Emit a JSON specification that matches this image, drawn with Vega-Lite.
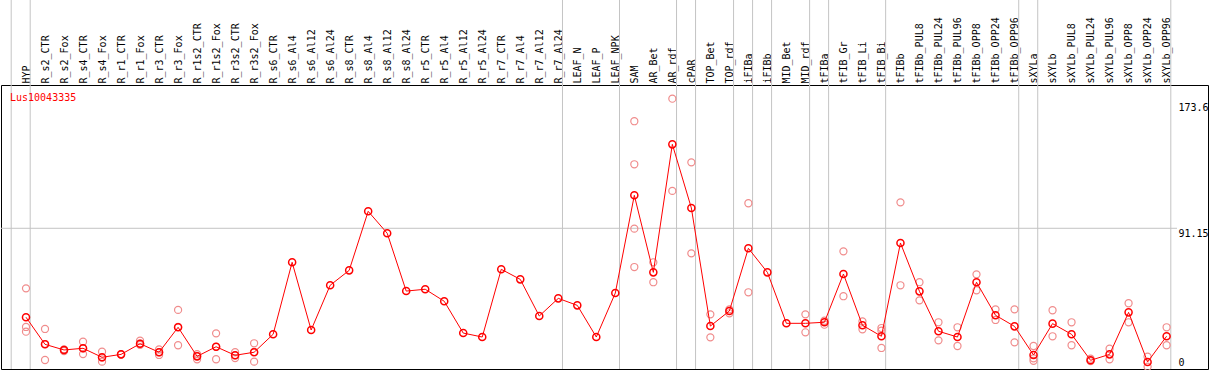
{
  "$schema": "https://vega.github.io/schema/vega-lite/v6.json",
  "width": 1207,
  "height": 284,
  "autosize": "none",
  "padding": {"left": 1, "top": 85, "right": 1, "bottom": 1},
  "background": "white",
  "config": {
    "view": {"stroke": "black", "strokeWidth": 1},
    "font": "DejaVu Sans Mono"
  },
  "title": {
    "text": "Lus10043335",
    "anchor": "start",
    "frame": "group",
    "orient": "top",
    "offset": 0,
    "baseline": "top",
    "color": "#ff0000",
    "font": "DejaVu Sans Mono",
    "fontSize": 10,
    "fontWeight": "normal",
    "dx": 9,
    "dy": 103
  },
  "datasets": {
    "means": [
      {"sample": "HYP", "value": 32.7},
      {"sample": "R_s2_CTR", "value": 14.9},
      {"sample": "R_s2_Fox", "value": 11.2},
      {"sample": "R_s4_CTR", "value": 12.3},
      {"sample": "R_s4_Fox", "value": 6.4},
      {"sample": "R_r1_CTR", "value": 8.3},
      {"sample": "R_r1_Fox", "value": 15.3},
      {"sample": "R_r3_CTR", "value": 9.7},
      {"sample": "R_r3_Fox", "value": 26.1},
      {"sample": "R_r1s2_CTR", "value": 7.0},
      {"sample": "R_r1s2_Fox", "value": 13.3},
      {"sample": "R_r3s2_CTR", "value": 7.7},
      {"sample": "R_r3s2_Fox", "value": 9.7},
      {"sample": "R_s6_CTR", "value": 21.5},
      {"sample": "R_s6_Al4", "value": 68.8},
      {"sample": "R_s6_Al12", "value": 24.3},
      {"sample": "R_s6_Al24", "value": 53.7},
      {"sample": "R_s8_CTR", "value": 63.5},
      {"sample": "R_s8_Al4", "value": 102.3},
      {"sample": "R_s8_Al12", "value": 87.9},
      {"sample": "R_s8_Al24", "value": 49.9},
      {"sample": "R_r5_CTR", "value": 51.1},
      {"sample": "R_r5_Al4", "value": 43.2},
      {"sample": "R_r5_Al12", "value": 22.3},
      {"sample": "R_r5_Al24", "value": 19.7},
      {"sample": "R_r7_CTR", "value": 64.2},
      {"sample": "R_r7_Al4", "value": 57.6},
      {"sample": "R_r7_Al12", "value": 33.5},
      {"sample": "R_r7_Al24", "value": 45.1},
      {"sample": "LEAF_N", "value": 40.5},
      {"sample": "LEAF_P", "value": 19.7},
      {"sample": "LEAF_NPK", "value": 48.6},
      {"sample": "SAM", "value": 112.8},
      {"sample": "AR_Bet", "value": 62.2},
      {"sample": "AR_rdf", "value": 146.3},
      {"sample": "cPAR", "value": 104.5},
      {"sample": "TOP_Bet", "value": 26.9},
      {"sample": "TOP_rdf", "value": 36.8},
      {"sample": "iFIBa", "value": 78.0},
      {"sample": "iFIBb", "value": 62.2},
      {"sample": "MID_Bet", "value": 28.7},
      {"sample": "MID_rdf", "value": 28.7},
      {"sample": "tFIBa", "value": 29.4},
      {"sample": "tFIB_Gr", "value": 61.1},
      {"sample": "tFIB_Li", "value": 27.4},
      {"sample": "tFIB_Bi", "value": 20.2},
      {"sample": "tFIBb", "value": 81.5},
      {"sample": "tFIBb_PUL8", "value": 49.7},
      {"sample": "tFIBb_PUL24", "value": 23.5},
      {"sample": "tFIBb_PUL96", "value": 19.7},
      {"sample": "tFIBb_OPP8", "value": 55.7},
      {"sample": "tFIBb_OPP24", "value": 34.0},
      {"sample": "tFIBb_OPP96", "value": 26.7},
      {"sample": "sXYLa", "value": 7.9},
      {"sample": "sXYLb", "value": 28.5},
      {"sample": "sXYLb_PUL8", "value": 21.5},
      {"sample": "sXYLb_PUL24", "value": 4.4},
      {"sample": "sXYLb_PUL96", "value": 8.3},
      {"sample": "sXYLb_OPP8", "value": 35.9},
      {"sample": "sXYLb_OPP24", "value": 3.3},
      {"sample": "sXYLb_OPP96", "value": 20.2}
    ],
    "reps": [
      {"sample": "HYP", "value": 51.7}, {"sample": "HYP", "value": 26.3}, {"sample": "HYP", "value": 23.2},
      {"sample": "R_s2_CTR", "value": 25.0}, {"sample": "R_s2_CTR", "value": 15.1}, {"sample": "R_s2_CTR", "value": 4.6},
      {"sample": "R_s2_Fox", "value": 11.6}, {"sample": "R_s2_Fox", "value": 10.8}, {"sample": "R_s2_Fox", "value": 10.5},
      {"sample": "R_s4_CTR", "value": 16.6}, {"sample": "R_s4_CTR", "value": 12.2}, {"sample": "R_s4_CTR", "value": 8.5},
      {"sample": "R_s4_Fox", "value": 10.1}, {"sample": "R_s4_Fox", "value": 6.2}, {"sample": "R_s4_Fox", "value": 3.5},
      {"sample": "R_r1_CTR", "value": 8.5}, {"sample": "R_r1_CTR", "value": 8.1},
      {"sample": "R_r1_Fox", "value": 17.3}, {"sample": "R_r1_Fox", "value": 15.4}, {"sample": "R_r1_Fox", "value": 14.5},
      {"sample": "R_r3_CTR", "value": 11.5}, {"sample": "R_r3_CTR", "value": 9.7}, {"sample": "R_r3_CTR", "value": 7.9},
      {"sample": "R_r3_Fox", "value": 37.5}, {"sample": "R_r3_Fox", "value": 26.3}, {"sample": "R_r3_Fox", "value": 14.3},
      {"sample": "R_r1s2_CTR", "value": 8.5}, {"sample": "R_r1s2_CTR", "value": 7.2}, {"sample": "R_r1s2_CTR", "value": 5.1},
      {"sample": "R_r1s2_Fox", "value": 22.1}, {"sample": "R_r1s2_Fox", "value": 13.3}, {"sample": "R_r1s2_Fox", "value": 5.1},
      {"sample": "R_r3s2_CTR", "value": 9.7}, {"sample": "R_r3s2_CTR", "value": 7.6}, {"sample": "R_r3s2_CTR", "value": 5.9},
      {"sample": "R_r3s2_Fox", "value": 15.6}, {"sample": "R_r3s2_Fox", "value": 9.9}, {"sample": "R_r3s2_Fox", "value": 3.5},
      {"sample": "SAM", "value": 161.5}, {"sample": "SAM", "value": 133.2}, {"sample": "SAM", "value": 90.9}, {"sample": "SAM", "value": 65.7},
      {"sample": "AR_Bet", "value": 68.8}, {"sample": "AR_Bet", "value": 55.7},
      {"sample": "AR_rdf", "value": 176.3}, {"sample": "AR_rdf", "value": 115.7},
      {"sample": "cPAR", "value": 134.5}, {"sample": "cPAR", "value": 74.7},
      {"sample": "TOP_Bet", "value": 34.6}, {"sample": "TOP_Bet", "value": 19.5},
      {"sample": "TOP_rdf", "value": 37.9}, {"sample": "TOP_rdf", "value": 35.3},
      {"sample": "iFIBa", "value": 107.6}, {"sample": "iFIBa", "value": 49.1},
      {"sample": "MID_rdf", "value": 34.6}, {"sample": "MID_rdf", "value": 22.8},
      {"sample": "tFIBa", "value": 30.4}, {"sample": "tFIBa", "value": 27.8},
      {"sample": "tFIB_Gr", "value": 76.0}, {"sample": "tFIB_Gr", "value": 46.5},
      {"sample": "tFIB_Li", "value": 30.0}, {"sample": "tFIB_Li", "value": 24.8},
      {"sample": "tFIB_Bi", "value": 25.6}, {"sample": "tFIB_Bi", "value": 23.9}, {"sample": "tFIB_Bi", "value": 12.5},
      {"sample": "tFIBb", "value": 108.2}, {"sample": "tFIBb", "value": 53.7},
      {"sample": "tFIBb_PUL8", "value": 55.7}, {"sample": "tFIBb_PUL8", "value": 43.8},
      {"sample": "tFIBb_PUL24", "value": 29.4}, {"sample": "tFIBb_PUL24", "value": 17.5},
      {"sample": "tFIBb_PUL96", "value": 26.1}, {"sample": "tFIBb_PUL96", "value": 13.8},
      {"sample": "tFIBb_OPP8", "value": 60.9}, {"sample": "tFIBb_OPP8", "value": 50.4},
      {"sample": "tFIBb_OPP24", "value": 37.9}, {"sample": "tFIBb_OPP24", "value": 30.9},
      {"sample": "tFIBb_OPP96", "value": 37.9}, {"sample": "tFIBb_OPP96", "value": 16.2},
      {"sample": "sXYLa", "value": 13.8}, {"sample": "sXYLa", "value": 5.7}, {"sample": "sXYLa", "value": 4.1},
      {"sample": "sXYLb", "value": 37.3}, {"sample": "sXYLb", "value": 20.2},
      {"sample": "sXYLb_PUL8", "value": 29.4}, {"sample": "sXYLb_PUL8", "value": 14.3},
      {"sample": "sXYLb_PUL24", "value": 5.5}, {"sample": "sXYLb_PUL24", "value": 3.9},
      {"sample": "sXYLb_PUL96", "value": 12.0}, {"sample": "sXYLb_PUL96", "value": 5.1},
      {"sample": "sXYLb_OPP8", "value": 41.9}, {"sample": "sXYLb_OPP8", "value": 29.4},
      {"sample": "sXYLb_OPP24", "value": 6.8}, {"sample": "sXYLb_OPP24", "value": 0.2},
      {"sample": "sXYLb_OPP96", "value": 26.1}, {"sample": "sXYLb_OPP96", "value": 14.3}
    ],
    "seps": [
      {"after": "HYP"}, {"after": "R_r7_Al24"}, {"after": "LEAF_NPK"}, {"after": "AR_rdf"},
      {"after": "cPAR"}, {"after": "TOP_rdf"}, {"after": "iFIBa"}, {"after": "iFIBb"},
      {"after": "MID_rdf"}, {"after": "tFIBa"}, {"after": "tFIB_Bi"}, {"after": "tFIBb_OPP96"},
      {"after": "sXYLa"}, {"after": "sXYLb_OPP96"}
    ]
  },
  "layer": [
    {
      "data": {"name": "seps"},
      "mark": {"type": "rule", "color": "#c4c4c4", "strokeWidth": 1, "xOffset": 4.2},
      "encoding": {
        "x": {"field": "after", "type": "nominal"},
        "y": {"value": -85},
        "y2": {"value": 284}
      }
    },
    {
      "data": {"name": "seps"},
      "transform": [{"filter": "datum.after === 'HYP'"}],
      "mark": {"type": "rule", "color": "#c4c4c4", "strokeWidth": 1, "xOffset": -14.8},
      "encoding": {
        "x": {"field": "after", "type": "nominal"},
        "y": {"value": -85},
        "y2": {"value": 284}
      }
    },
    {
      "data": {"values": [{}]},
      "mark": {"type": "rule", "color": "#c4c4c4", "strokeWidth": 1},
      "encoding": {
        "y": {"datum": 91.15, "type": "quantitative"},
        "x": {"value": 0},
        "x2": {"value": 1176}
      }
    },
    {
      "data": {"name": "reps"},
      "mark": {
        "type": "point",
        "shape": "circle",
        "filled": false,
        "size": 50,
        "strokeWidth": 1.2,
        "color": "#f08c8c",
        "opacity": 1
      },
      "encoding": {
        "x": {"field": "sample", "type": "nominal"},
        "y": {"field": "value", "type": "quantitative"}
      }
    },
    {
      "data": {"name": "means"},
      "mark": {"type": "line", "color": "#ff0000", "strokeWidth": 1},
      "encoding": {
        "x": {"field": "sample", "type": "nominal"},
        "y": {"field": "value", "type": "quantitative"}
      }
    },
    {
      "data": {"name": "means"},
      "mark": {
        "type": "point",
        "shape": "circle",
        "filled": false,
        "size": 50,
        "strokeWidth": 1.5,
        "color": "#ff0000",
        "opacity": 1
      },
      "encoding": {
        "x": {"field": "sample", "type": "nominal"},
        "y": {"field": "value", "type": "quantitative"}
      }
    }
  ],
  "encoding": {
    "x": {
      "field": "sample",
      "type": "nominal",
      "scale": {
        "type": "point",
        "padding": 0,
        "range": [25, 1165.6],
        "domain": ["HYP","R_s2_CTR","R_s2_Fox","R_s4_CTR","R_s4_Fox","R_r1_CTR","R_r1_Fox","R_r3_CTR","R_r3_Fox","R_r1s2_CTR","R_r1s2_Fox","R_r3s2_CTR","R_r3s2_Fox","R_s6_CTR","R_s6_Al4","R_s6_Al12","R_s6_Al24","R_s8_CTR","R_s8_Al4","R_s8_Al12","R_s8_Al24","R_r5_CTR","R_r5_Al4","R_r5_Al12","R_r5_Al24","R_r7_CTR","R_r7_Al4","R_r7_Al12","R_r7_Al24","LEAF_N","LEAF_P","LEAF_NPK","SAM","AR_Bet","AR_rdf","cPAR","TOP_Bet","TOP_rdf","iFIBa","iFIBb","MID_Bet","MID_rdf","tFIBa","tFIB_Gr","tFIB_Li","tFIB_Bi","tFIBb","tFIBb_PUL8","tFIBb_PUL24","tFIBb_PUL96","tFIBb_OPP8","tFIBb_OPP24","tFIBb_OPP96","sXYLa","sXYLb","sXYLb_PUL8","sXYLb_PUL24","sXYLb_PUL96","sXYLb_OPP8","sXYLb_OPP24","sXYLb_OPP96"]
      },
      "axis": {
        "orient": "top",
        "title": null,
        "domain": false,
        "ticks": false,
        "tickSize": 0,
        "grid": false,
        "labelAngle": 270,
        "labelAlign": "left",
        "labelBaseline": "middle",
        "labelPadding": 2,
        "labelFont": "DejaVu Sans Mono",
        "labelFontSize": 10,
        "labelColor": "black",
        "labelOverlap": false,
        "labelLimit": 0,
        "labelBound": false
      }
    },
    "y": {
      "type": "quantitative",
      "scale": {"domain": [-1.31, 185.3], "nice": false, "zero": false},
      "axis": {
        "orient": "right",
        "title": null,
        "values": [0, 91.15, 173.6],
        "labelExpr": "'' + datum.value",
        "grid": false,
        "domain": false,
        "ticks": false,
        "tickSize": 0,
        "offset": -30,
        "labelPadding": 0,
        "labelAlign": "left",
        "labelBaseline": {"condition": {"test": "datum.value === 0", "value": "bottom"}, "value": "top"},
        "labelFont": "DejaVu Sans Mono",
        "labelFontSize": 10,
        "labelColor": "black",
        "labelOverlap": false,
        "labelFlush": false,
        "labelBound": false
      }
    }
  }
}
